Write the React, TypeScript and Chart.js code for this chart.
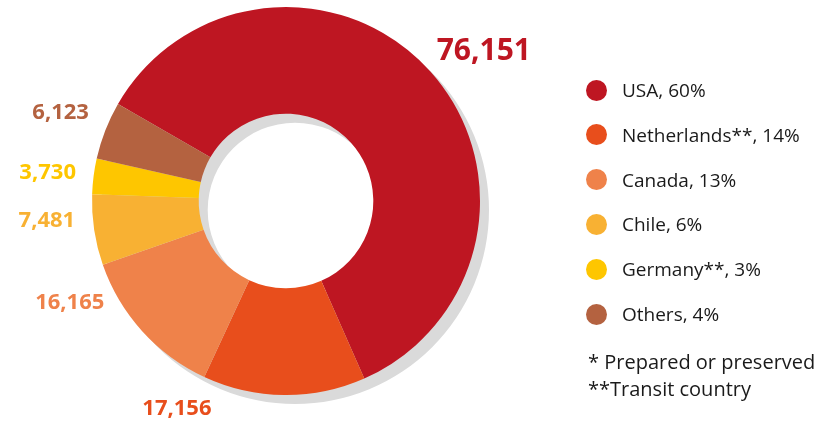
import React, { useEffect, useRef } from "react";
import { Chart, registerables } from "chart.js";

Chart.register(...registerables);

const countries = ["USA", "Netherlands**", "Canada", "Chile", "Germany**", "Others"];
const values = [76151, 17156, 16165, 7481, 3730, 6123];
const valueLabels = ["76,151", "17,156", "16,165", "7,481", "3,730", "6,123"];
const shares = ["60%", "14%", "13%", "6%", "3%", "4%"];
const colors = ["#BE1622", "#E84E1C", "#EF824A", "#F8B133", "#FEC600", "#B46240"];
const footnotes = ["* Prepared or preserved", "**Transit country"];

// label placement: [angle in degrees clockwise from top, distance as ratio of outer radius]
const labelLayout: [number, number][] = [
  [53.0, 1.277],
  [207.7, 1.21],
  [244.8, 1.232],
  [265.2, 1.237],
  [276.7, 1.237],
  [291.3, 1.247],
];
const labelSizes = [30, 22, 22, 22, 22, 22];

const FONT = "'Open Sans', 'DejaVu Sans', sans-serif";

const shadowPlugin = {
  id: "ringShadow",
  beforeDatasetsDraw(chart: any) {
    const meta = chart.getDatasetMeta(0);
    const arc = meta.data[0];
    if (!arc) return;
    const { x, y, outerRadius, innerRadius } = arc.getProps(["x", "y", "outerRadius", "innerRadius"], true);
    const ctx = chart.ctx;
    ctx.save();
    ctx.fillStyle = "#DADADA";
    ctx.beginPath();
    ctx.arc(x + 9, y + 9, outerRadius, 0, Math.PI * 2);
    ctx.arc(x + 9, y + 9, innerRadius, 0, Math.PI * 2, true);
    ctx.fill("evenodd");
    ctx.restore();
  },
};

const labelPlugin = {
  id: "valueLabels",
  afterDatasetsDraw(chart: any) {
    const meta = chart.getDatasetMeta(0);
    const ctx = chart.ctx;
    ctx.save();
    ctx.textAlign = "center";
    ctx.textBaseline = "middle";
    meta.data.forEach((arc: any, i: number) => {
      const { x, y, outerRadius } = arc.getProps(["x", "y", "outerRadius"], true);
      const [deg, ratio] = labelLayout[i];
      const a = (deg * Math.PI) / 180;
      const r = outerRadius * ratio;
      const lx = x + Math.sin(a) * r;
      const ly = y - Math.cos(a) * r;
      ctx.fillStyle = colors[i];
      ctx.font = `bold ${labelSizes[i]}px ${FONT}`;
      ctx.fillText(valueLabels[i], lx, ly);
    });
    ctx.restore();
  },
};

export default function App() {
  const canvasRef = useRef<HTMLCanvasElement | null>(null);

  useEffect(() => {
    if (!canvasRef.current) return;
    const chart = new Chart(canvasRef.current, {
      type: "doughnut",
      data: {
        labels: countries,
        datasets: [
          {
            data: values,
            backgroundColor: colors,
            borderWidth: 0,
            hoverOffset: 0,
          },
        ],
      },
      options: {
        responsive: false,
        animation: false,
        rotation: -60,
        cutout: "45%",
        layout: { padding: { left: 92, top: 7, right: 350, bottom: 27 } },
        plugins: {
          legend: { display: false },
          tooltip: { enabled: false },
        },
      },
      plugins: [shadowPlugin, labelPlugin],
    });
    return () => chart.destroy();
  }, []);

  return (
    <div style={{ position: "fixed", left: 0, top: 0, width: 830, height: 422, background: "#fff", fontFamily: FONT }}>
      <canvas ref={canvasRef} width={830} height={422} style={{ position: "absolute", left: 0, top: 0, width: 830, height: 422 }} />
      {countries.map((c, i) => (
        <div key={c} style={{ position: "absolute", left: 586, top: 90 + i * 44.8 - 12, height: 24, display: "flex", alignItems: "center" }}>
          <span style={{ display: "inline-block", width: 21, height: 21, borderRadius: "50%", background: colors[i], flex: "none" }} />
          <span style={{ marginLeft: 15, fontSize: 19, color: "#1a1a1a", whiteSpace: "nowrap" }}>
            {c}, {shares[i]}
          </span>
        </div>
      ))}
      {footnotes.map((f, i) => (
        <div key={f} style={{ position: "absolute", left: 588, top: 362 + i * 27 - 13, height: 26, lineHeight: "26px", fontSize: 20, color: "#1a1a1a", whiteSpace: "nowrap" }}>
          {f}
        </div>
      ))}
    </div>
  );
}
